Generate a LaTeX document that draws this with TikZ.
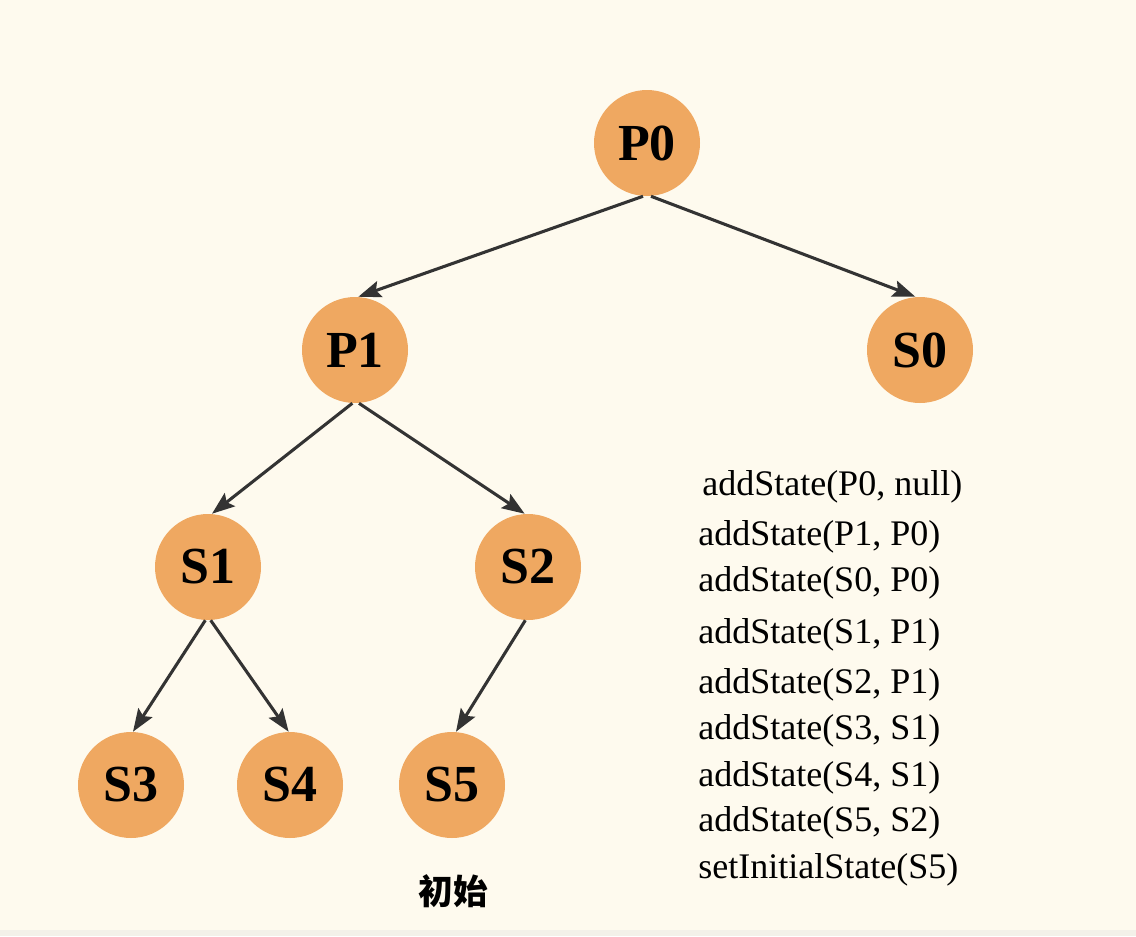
\documentclass[tikz,border=0pt]{standalone}
\usepackage{fontspec}
\setmainfont{Liberation Serif}
\newfontfamily\cjk{Noto Sans CJK SC}
\usetikzlibrary{arrows.meta}
\definecolor{bgc}{RGB}{254,250,238}
\definecolor{stripc}{RGB}{243,241,233}
\definecolor{nodec}{RGB}{239,168,97}
\definecolor{edgec}{RGB}{51,51,51}
\tikzset{
  st/.style={circle,fill=nodec,minimum size=79.5pt,inner sep=0pt,
    font=\fontsize{39pt}{39pt}\selectfont\bfseries,text=black},
  edge/.style={draw=edgec,line width=2.3pt,
    -{Stealth[length=17pt,width=12.5pt,inset=3pt]}},
  code/.style={anchor=base west,inner sep=0pt,
    font=\fontsize{27pt}{27pt}\selectfont,text=black}
}
\begin{document}
\begin{tikzpicture}[x=0.75pt,y=-0.75pt]
\useasboundingbox (0,0) rectangle (1136,936);
\fill[bgc] (0,0) rectangle (1136,936);
\fill[stripc] (0,930) rectangle (1136,936);
\node[st] (P0) at (647,143) {P0};
\node[st] (P1) at (355,350) {P1};
\node[st] (S0) at (920,350) {S0};
\node[st] (S1) at (208,567) {S1};
\node[st] (S2) at (528,567) {S2};
\node[st] (S3) at (131,785) {S3};
\node[st] (S4) at (290,785) {S4};
\node[st] (S5) at (452,785) {S5};
\draw[edge] ([xshift=-3pt]P0.south) -- ([xshift=2.5pt]P1.north);
\draw[edge] ([xshift=3pt]P0.south) -- ([xshift=-3.5pt]S0.north);
\draw[edge] ([xshift=-2pt]P1.south) -- ([xshift=3pt]S1.north);
\draw[edge] ([xshift=3pt]P1.south) -- ([xshift=-2.5pt]S2.north);
\draw[edge] ([xshift=-2pt]S1.south) -- ([xshift=1.5pt]S3.north);
\draw[edge] ([xshift=2pt]S1.south) -- ([xshift=-1pt]S4.north);
\draw[edge] ([xshift=-2pt]S2.south) -- ([xshift=3pt]S5.north);
\node[code] (c1) at (702,495) {addState(P0, null)};
\node[code] (c2) at (698,545) {addState(P1, P0)};
\node[code] (c3) at (698,591) {addState(S0, P0)};
\node[code] (c4) at (698,643) {addState(S1, P1)};
\node[code] (c5) at (698,693) {addState(S2, P1)};
\node[code] (c6) at (698,739) {addState(S3, S1)};
\node[code] (c7) at (698,786) {addState(S4, S1)};
\node[code] (c8) at (698,831) {addState(S5, S2)};
\node[code] (c9) at (698,878) {setInitialState(S5)};
\node[inner sep=0pt,font=\cjk\bfseries\fontsize{26pt}{26pt}\selectfont] (lbl) at (453,891) {初始};
\end{tikzpicture}
\end{document}
